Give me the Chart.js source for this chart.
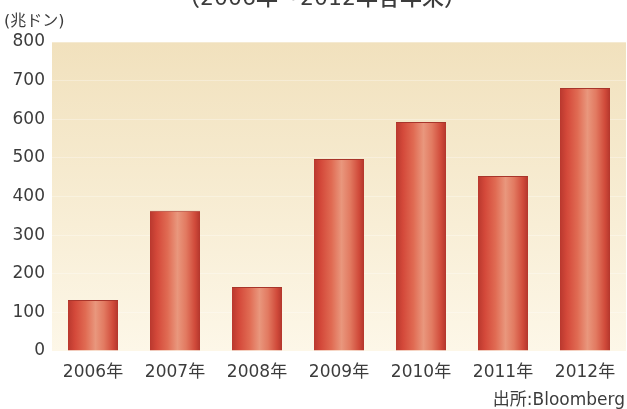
<!DOCTYPE html>
<html lang="ja">
<head>
<meta charset="utf-8">
<title>ベトナム 株式時価総額</title>
<script src="https://cdn.jsdelivr.net/npm/chart.js@4/dist/chart.umd.min.js"></script>
<style>
  html, body { margin: 0; padding: 0; background: #fff; }
  #wrap { width: 627px; height: 409px; position: relative; }
</style>
</head>
<body>
<div id="wrap"><canvas id="capChart"></canvas></div>
<script>
const years = ['2006年', '2007年', '2008年', '2009年', '2010年', '2011年', '2012年'];
const values = [132, 363, 166, 497, 593, 453, 681];
const yMin = 0;
const yMax = 800;
const yStep = 100;

const titleText = '（2006年～2012年各年末）';
const unitText = '(兆ドン)';
const sourceText = '出所:Bloomberg';

const FONT = '"DejaVu Sans", "Noto Sans CJK JP", sans-serif';
const TEXT_COLOR = '#3c3c3c';
const BAR_PCT = 0.61;

// cream background behind the bars, darker toward the top
const plotBackground = {
    id: 'plotBackground',
    beforeDraw(chart) {
        const { ctx, chartArea: a } = chart;
        const g = ctx.createLinearGradient(0, a.top, 0, a.bottom);
        g.addColorStop(0, '#f1e1bd');
        g.addColorStop(0.5, '#f7ecd2');
        g.addColorStop(1, '#fdf7e8');
        ctx.save();
        ctx.fillStyle = g;
        ctx.fillRect(a.left, a.top, a.right - a.left, a.bottom - a.top);
        ctx.restore();
    }
};

// cylinder-like shading across each bar, built from the x scale
function barFill(context) {
    const chart = context.chart;
    const xs = chart.scales.x;
    if (!chart.chartArea || !xs) return '#d9553f';
    const cx = xs.getPixelForValue(context.dataIndex);
    const w = (chart.chartArea.right - chart.chartArea.left) / years.length * BAR_PCT;
    const g = chart.ctx.createLinearGradient(cx - w / 2, 0, cx + w / 2, 0);
    g.addColorStop(0, '#b9382e');
    g.addColorStop(0.14, '#d4493a');
    g.addColorStop(0.35, '#e06b53');
    g.addColorStop(0.55, '#e9977d');
    g.addColorStop(0.72, '#e27a61');
    g.addColorStop(0.9, '#d04a3a');
    g.addColorStop(1, '#b3362c');
    return g;
}

// title, unit and source notes
const notes = {
    id: 'notes',
    afterDraw(chart) {
        const { ctx } = chart;
        ctx.save();
        ctx.fillStyle = TEXT_COLOR;
        ctx.textBaseline = 'alphabetic';

        ctx.font = '500 22px ' + FONT;
        ctx.textAlign = 'center';
        ctx.fillText(titleText, 322, 5);

        ctx.font = '16px ' + FONT;
        ctx.textAlign = 'left';
        ctx.fillText(unitText, 4, 26);

        ctx.font = '17px ' + FONT;
        ctx.textAlign = 'right';
        ctx.fillText(sourceText, 625, 405);
        ctx.restore();
    }
};

new Chart(document.getElementById('capChart'), {
    type: 'bar',
    data: {
        labels: years,
        datasets: [{
            data: values,
            backgroundColor: barFill,
            borderColor: '#a8352b',
            borderWidth: { top: 1, left: 0, right: 0, bottom: 0 },
            borderSkipped: false,
            categoryPercentage: 1,
            barPercentage: BAR_PCT
        }]
    },
    options: {
        responsive: true,
        maintainAspectRatio: false,
        animation: false,
        layout: { padding: { top: 42, right: 1, left: 0, bottom: 0 } },
        plugins: {
            legend: { display: false },
            tooltip: { enabled: false }
        },
        scales: {
            x: {
                grid: { display: false, drawTicks: false },
                border: { display: false },
                ticks: {
                    color: TEXT_COLOR,
                    font: { family: FONT, size: 17 },
                    padding: 11,
                    maxRotation: 0
                },
                afterFit(scale) { scale.height = 58; }
            },
            y: {
                min: yMin,
                max: yMax,
                grid: { color: 'rgba(255,255,255,0.3)', drawTicks: false },
                border: { display: false },
                ticks: {
                    stepSize: yStep,
                    color: TEXT_COLOR,
                    font: { family: FONT, size: 17 },
                    padding: 7
                },
                afterFit(scale) { scale.width = 52; }
            }
        }
    },
    plugins: [plotBackground, notes]
});
</script>
</body>
</html>
